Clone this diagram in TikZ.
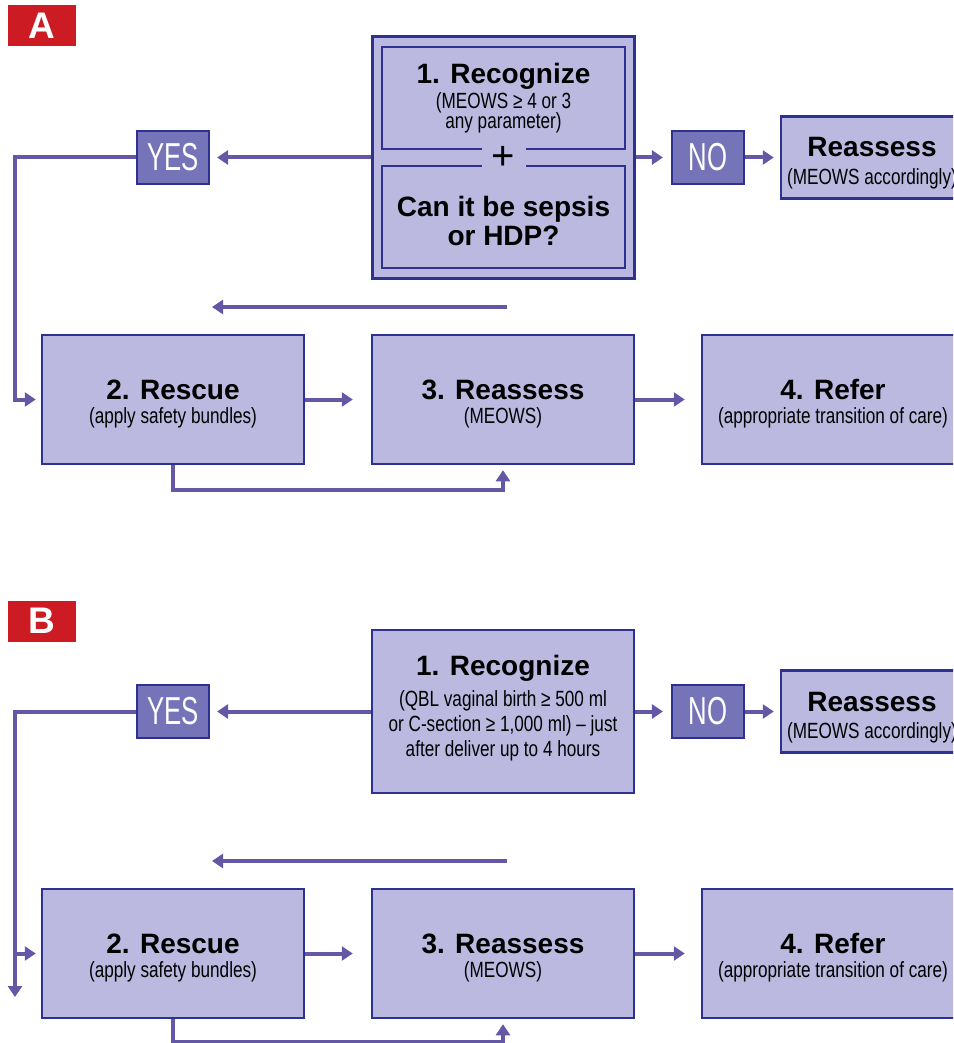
\documentclass[tikz,border=0pt]{standalone}
\usepackage{fontspec}
\setmainfont{Liberation Sans}
\newfontfamily\narrowfont[FakeStretch=0.78]{Liberation Sans}
\newfontfamily\condfont[FakeStretch=0.66]{Liberation Sans}
\usetikzlibrary{arrows.meta}
\definecolor{boxfill}{HTML}{BBB9DF}
\definecolor{boxline}{HTML}{2E3192}
\definecolor{darkfill}{HTML}{7674B8}
\definecolor{arrowc}{HTML}{6457A6}
\definecolor{redlab}{HTML}{CC1B22}
\tikzset{
  box/.style={draw=boxline, fill=boxfill, line width=2.5pt, inner sep=0pt},
  bigbox/.style={box, minimum width=262pt, minimum height=129pt},
  ynbox/.style={draw=boxline, fill=darkfill, line width=2.2pt, minimum width=72pt, minimum height=53pt, inner sep=0pt, text=white, font=\condfont\fontsize{39}{39}\selectfont},
  lab/.style={fill=redlab, minimum width=68pt, minimum height=41pt, inner sep=0pt, text=white, font=\bfseries\fontsize{37}{37}\selectfont},
  title/.style={anchor=base, inner sep=0pt, font=\bfseries\fontsize{28}{28}\selectfont},
  sub/.style={anchor=base, inner sep=0pt, font=\narrowfont\fontsize{22}{22}\selectfont},
  conn/.style={draw=arrowc, line width=4pt},
  arr/.style={conn, -{Triangle[length=11pt,width=14pt]}},
}
\begin{document}
\begin{tikzpicture}[x=1pt, y=-1pt]
\useasboundingbox (0,0) rectangle (953,1043);
\clip (0,0) rectangle (953,1043);
\fill[white] (0,0) rectangle (953,1043);

% ================= Panel A =================
\node[lab] (labA) at (42,25.5) {A};

\node[box, line width=3pt, minimum width=262pt, minimum height=241pt] (recA) at (503,157.5) {};
\node[box, minimum width=243pt, minimum height=102pt] (recAtop) at (503.5,98) {};
\node[box, minimum width=243pt, minimum height=102pt] (recAbot) at (503.5,217) {};
\node[fill=boxfill, minimum width=44pt, minimum height=28pt, inner sep=0pt, font=\fontsize{40}{40}\selectfont] (plusA) at (503.5,157.5) {+};
\node[title] at (503.5,84) {1. Recognize};
\node[sub] at (503.5,109) {(MEOWS ≥ 4 or 3};
\node[sub] at (503.5,129) {any parameter)};
\node[title] at (503.5,216) {Can it be sepsis};
\node[title] at (503.5,245) {or HDP?};

\node[ynbox] (yesA) at (173,157.5) {YES};
\node[ynbox] (noA) at (708,157.5) {NO};
\node[box, minimum width=182pt, minimum height=82pt] (reassA) at (872,157.5) {};
\node[title] at (872,157) {Reassess};
\node[sub] at (872,184) {(MEOWS accordingly)};

\node[bigbox] (rescueA) at (173,399.5) {};
\node[title] at (173,399) {2. Rescue};
\node[sub] at (173,423) {(apply safety bundles)};
\node[bigbox] (reA) at (503,399.5) {};
\node[title] at (503,399) {3. Reassess};
\node[sub] at (503,423) {(MEOWS)};
\node[bigbox] (referA) at (833,399.5) {};
\node[title] at (833,399) {4. Refer};
\node[sub] at (833,423) {(appropriate transition of care)};

\coordinate (leftA) at (15,0);
\coordinate (fbAs) at (507,307);
\coordinate (fbAe) at (212,307);

\draw[arr, shorten >=7pt] (recA.west) -- (yesA.east);
\draw[arr, shorten >=5pt] (yesA.west) -- (yesA.west -| leftA) |- (rescueA.west);
\draw[arr, shorten >=8pt] (recA.east) -- (noA.west);
\draw[arr, shorten >=6pt] (noA.east) -- (reassA.west);
\draw[arr] (fbAs) -- (fbAe);
\draw[arr, shorten >=18pt] (rescueA.east) -- (reA.west);
\draw[arr, shorten >=16pt] (reA.east) -- (referA.west);
\draw[arr, shorten >=5pt] (rescueA.south) -- ++(0,25) -| (reA.south);

% ================= Panel B =================
\node[lab] (labB) at (42,621) {B};

\node[box, minimum width=262pt, minimum height=163pt] (recB) at (503,711.5) {};
\node[title] at (503,675) {1. Recognize};
\node[sub] at (503,706) {(QBL vaginal birth ≥ 500 ml};
\node[sub] at (503,731) {or C-section ≥ 1,000 ml) – just};
\node[sub] at (503,756) {after deliver up to 4 hours};

\node[ynbox] (yesB) at (173,711.5) {YES};
\node[ynbox] (noB) at (708,711.5) {NO};
\node[box, minimum width=182pt, minimum height=82pt] (reassB) at (872,711.5) {};
\node[title] at (872,711) {Reassess};
\node[sub] at (872,738) {(MEOWS accordingly)};

\node[bigbox] (rescueB) at (173,953.5) {};
\node[title] at (173,953) {2. Rescue};
\node[sub] at (173,977) {(apply safety bundles)};
\node[bigbox] (reB) at (503,953.5) {};
\node[title] at (503,953) {3. Reassess};
\node[sub] at (503,977) {(MEOWS)};
\node[bigbox] (referB) at (833,953.5) {};
\node[title] at (833,953) {4. Refer};
\node[sub] at (833,977) {(appropriate transition of care)};

\coordinate (downB) at (15,997);
\coordinate (fbBs) at (507,861);
\coordinate (fbBe) at (212,861);

\draw[arr, shorten >=7pt] (recB.west) -- (yesB.east);
\draw[arr] (yesB.west) -| (downB);
\draw[arr, shorten >=5pt] (rescueB.west -| downB) -- (rescueB.west);
\draw[arr, shorten >=8pt] (recB.east) -- (noB.west);
\draw[arr, shorten >=6pt] (noB.east) -- (reassB.west);
\draw[arr] (fbBs) -- (fbBe);
\draw[arr, shorten >=18pt] (rescueB.east) -- (reB.west);
\draw[arr, shorten >=16pt] (reB.east) -- (referB.west);
\draw[arr, shorten >=5pt] (rescueB.south) -- ++(0,23) -| (reB.south);
\end{tikzpicture}
\end{document}
